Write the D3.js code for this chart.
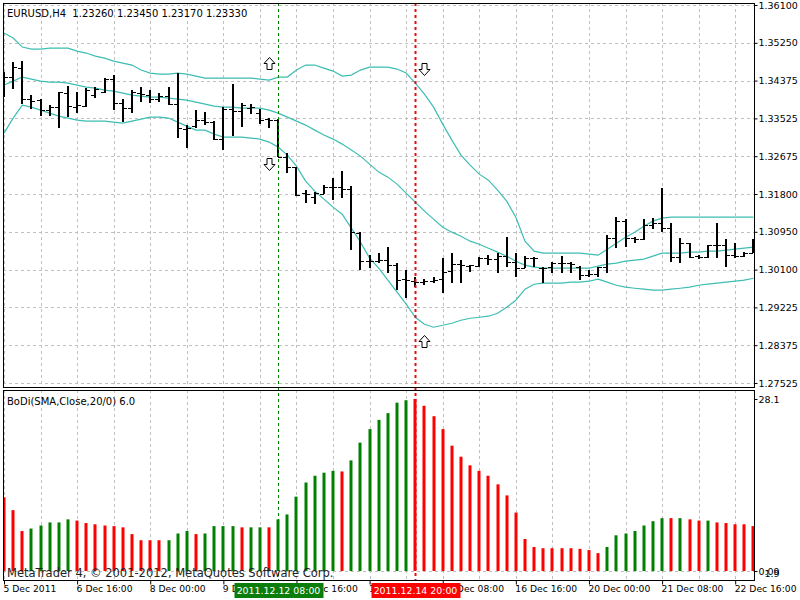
<!DOCTYPE html>
<html>
<head>
<meta charset="utf-8">
<script src="https://d3js.org/d3.v7.min.js"></script>
<style>
  body { margin: 0; background: #fff; }
  text { font-family: "DejaVu Sans", sans-serif; font-size: 10px; }
  .axis .domain { display: none; }
</style>
</head>
<body>
<svg width="800" height="600"></svg>
<script>

// ---- data (EURUSD H4, 83 bars) ----
var open = [1.34397,1.34465,1.34669,1.33966,1.33943,1.33716,1.33784,1.34102,1.33784,1.33807,
  1.34057,1.34125,1.34420,1.33875,1.33762,1.34102,1.34057,1.33966,1.34034,1.33852,
  1.33285,1.33353,1.33489,1.33444,1.33058,1.33739,1.33693,1.33762,1.33648,1.33512,
  1.33489,1.32649,1.32422,1.31832,1.31741,1.31809,1.31968,1.31968,1.31923,1.30924,
  1.30288,1.30288,1.30311,1.30198,1.29880,1.29834,1.29812,1.29834,1.29880,1.30061,
  1.30220,1.30175,1.30175,1.30357,1.30334,1.30402,1.30266,1.30129,1.30357,1.30129,
  1.30152,1.30243,1.30243,1.30152,1.29971,1.29993,1.30152,1.30810,1.31196,1.30810,
  1.30788,1.31106,1.31151,1.31037,1.30379,1.30697,1.30402,1.30379,1.30652,1.30652,
  1.30425,1.30402,1.30470];

var high = [1.34579,1.34806,1.34828,1.34057,1.33966,1.33830,1.34125,1.34261,1.34125,1.34215,
  1.34238,1.34442,1.34511,1.33966,1.34170,1.34238,1.34170,1.34102,1.34238,1.34556,
  1.33376,1.33716,1.33671,1.33466,1.33784,1.34306,1.33875,1.33852,1.33739,1.33535,
  1.33512,1.32740,1.32422,1.31900,1.31855,1.32014,1.32173,1.32331,1.31991,1.30947,
  1.30425,1.30470,1.30606,1.30243,1.30084,1.29925,1.29880,1.29925,1.30357,1.30470,
  1.30311,1.30198,1.30379,1.30425,1.30470,1.30833,1.30470,1.30402,1.30379,1.30152,
  1.30266,1.30402,1.30266,1.30175,1.30084,1.30152,1.30878,1.31287,1.31242,1.30833,
  1.31242,1.31265,1.31945,1.31151,1.30810,1.30697,1.30425,1.30652,1.31151,1.30788,
  1.30697,1.30493,1.30788];

var low = [1.34011,1.34193,1.33852,1.33739,1.33580,1.33580,1.33307,1.33557,1.33648,1.33784,
  1.33989,1.34102,1.33716,1.33444,1.33648,1.33898,1.33875,1.33898,1.33830,1.33080,
  1.32853,1.33307,1.33376,1.33035,1.32808,1.33126,1.33330,1.33625,1.33398,1.33307,
  1.32649,1.32286,1.31764,1.31605,1.31582,1.31809,1.31673,1.31718,1.30538,1.30084,
  1.30129,1.30243,1.30016,1.29630,1.29448,1.29698,1.29743,1.29789,1.29562,1.29789,
  1.29789,1.30039,1.30152,1.30198,1.30016,1.30152,1.29925,1.30129,1.30152,1.29789,
  1.30016,1.30016,1.30016,1.29857,1.29925,1.29925,1.30016,1.30583,1.30606,1.30697,
  1.30765,1.31015,1.30947,1.30266,1.30243,1.30357,1.30334,1.30357,1.30357,1.30152,
  1.30357,1.30379,1.30470];

var close = [1.34465,1.34692,1.33966,1.33920,1.33716,1.33784,1.34125,1.33807,1.33830,1.34170,
  1.34193,1.34420,1.33875,1.33762,1.34125,1.34079,1.33966,1.34034,1.33852,1.33307,
  1.33307,1.33489,1.33444,1.33058,1.33739,1.33693,1.33830,1.33784,1.33489,1.33489,
  1.32649,1.32422,1.31786,1.31809,1.31832,1.31968,1.31968,1.31923,1.30947,1.30288,
  1.30288,1.30311,1.30198,1.29857,1.29857,1.29812,1.29834,1.29857,1.30039,1.30220,
  1.30198,1.30198,1.30357,1.30334,1.30402,1.30266,1.30129,1.30357,1.30357,1.30129,
  1.30243,1.30243,1.30220,1.29971,1.29993,1.30152,1.30810,1.31196,1.30810,1.30788,
  1.31106,1.31151,1.31037,1.30379,1.30697,1.30379,1.30379,1.30652,1.30652,1.30425,
  1.30402,1.30470,1.30606];

// Bollinger bands (20, SMA)
var bbUpper = [1.35464,1.35350,1.35146,1.35101,1.35101,1.35123,1.35123,1.35123,1.35055,1.35010,
  1.34942,1.34896,1.34828,1.34783,1.34738,1.34624,1.34556,1.34533,1.34533,1.34556,
  1.34533,1.34488,1.34442,1.34442,1.34442,1.34442,1.34442,1.34442,1.34420,1.34397,
  1.34465,1.34465,1.34624,1.34738,1.34738,1.34669,1.34601,1.34488,1.34511,1.34624,
  1.34692,1.34692,1.34692,1.34647,1.34556,1.34329,1.34079,1.33784,1.33398,1.33035,
  1.32695,1.32468,1.32263,1.32127,1.31900,1.31650,1.31287,1.30742,1.30515,1.30470,
  1.30470,1.30470,1.30470,1.30470,1.30447,1.30425,1.30561,1.30697,1.30833,1.30947,
  1.31083,1.31196,1.31265,1.31287,1.31287,1.31287,1.31287,1.31287,1.31287,1.31287,
  1.31287,1.31287,1.31287];

var bbMiddle = [1.34284,1.34374,1.34465,1.34420,1.34374,1.34352,1.34352,1.34329,1.34284,1.34238,
  1.34215,1.34170,1.34147,1.34102,1.34057,1.34034,1.34011,1.34011,1.33989,1.33966,
  1.33943,1.33898,1.33852,1.33807,1.33784,1.33784,1.33762,1.33762,1.33762,1.33716,
  1.33648,1.33557,1.33466,1.33376,1.33262,1.33149,1.33058,1.32944,1.32808,1.32672,
  1.32490,1.32309,1.32195,1.32036,1.31832,1.31628,1.31423,1.31242,1.31060,1.30947,
  1.30856,1.30742,1.30674,1.30583,1.30493,1.30402,1.30288,1.30198,1.30152,1.30129,
  1.30129,1.30129,1.30129,1.30129,1.30129,1.30175,1.30220,1.30243,1.30288,1.30311,
  1.30334,1.30402,1.30470,1.30470,1.30470,1.30493,1.30493,1.30515,1.30515,1.30538,
  1.30561,1.30583,1.30606];

var bbLower = [1.33194,1.33535,1.33830,1.33784,1.33716,1.33648,1.33580,1.33535,1.33489,1.33466,
  1.33466,1.33466,1.33444,1.33421,1.33466,1.33512,1.33557,1.33557,1.33535,1.33444,
  1.33353,1.33262,1.33262,1.33171,1.33103,1.33103,1.33103,1.33080,1.33058,1.32990,
  1.32876,1.32695,1.32445,1.32104,1.31877,1.31696,1.31514,1.31355,1.31037,1.30720,
  1.30357,1.30129,1.29857,1.29585,1.29312,1.29017,1.28858,1.28790,1.28835,1.28881,
  1.28949,1.28994,1.29017,1.29040,1.29108,1.29244,1.29403,1.29653,1.29766,1.29789,
  1.29789,1.29789,1.29812,1.29812,1.29834,1.29880,1.29812,1.29743,1.29698,1.29675,
  1.29653,1.29630,1.29630,1.29653,1.29675,1.29698,1.29743,1.29766,1.29789,1.29812,
  1.29834,1.29857,1.29902];

// BoDi histogram (band width) and its colour state: 1 rising, -1 falling
var bodi = [12.1,10.0,6.6,7.0,7.5,8.0,8.0,8.5,8.3,7.9,
  7.7,7.5,7.4,7.2,6.1,5.1,5.1,5.1,5.1,6.2,
  6.6,6.1,6.2,7.4,7.4,7.4,7.2,7.2,7.2,7.2,
  8.5,9.3,12.2,14.5,15.6,16.1,16.4,16.3,18.1,21.0,
  23.2,24.7,25.8,27.5,27.9,28.1,27.0,25.3,23.2,20.5,
  18.7,17.3,16.4,15.6,14.2,12.4,9.6,5.3,4.0,3.8,
  3.8,3.8,3.8,3.7,3.5,3.0,4.0,5.9,6.2,6.6,
  7.5,8.2,8.7,8.7,8.7,8.5,8.3,8.3,8.0,7.9,
  7.7,7.7,7.4];

var bodiDir = [-1,-1,-1,1,1,1,1,1,-1,-1,
  -1,-1,-1,-1,-1,-1,-1,-1,1,1,
  1,-1,1,1,1,1,-1,1,1,-1,
  1,1,1,1,1,1,1,-1,1,1,
  1,1,1,1,1,-1,-1,-1,-1,-1,
  -1,-1,-1,-1,-1,-1,-1,-1,-1,-1,
  -1,-1,-1,-1,-1,-1,1,1,1,1,
  1,1,1,-1,1,-1,-1,1,-1,-1,
  -1,-1,-1];

var priceLabels = ["1.36100","1.35250","1.34375","1.33525","1.32675","1.31800",
                   "1.30950","1.30100","1.29225","1.28375","1.27525"];

var timeLabels = ["5 Dec 2011","6 Dec 16:00","8 Dec 00:00","9 Dec 08:00","12 Dec 16:00",
                  "14 Dec 00:00","15 Dec 08:00","16 Dec 16:00","20 Dec 00:00",
                  "21 Dec 08:00","22 Dec 16:00"];

// vertical marker lines (bar index) and signal arrows
var markerBars = [30, 45];
var markerLabels = ["2011.12.12 08:00", "2011.12.14 20:00"];
var arrowBars = [29, 29, 46, 46];
var arrowPrices = [1.34919, 1.32626, 1.34783, 1.28609];
var arrowDirs = ["up", "down", "down", "up"];

// ---- layout ----
var svg = d3.select("svg");
var L = 3, R = 754, mainTop = 3, mainBot = 387, subTop = 390, subBot = 580;

var x = d3.scaleLinear().domain([0, 80]).range([4, 735.2]);
var y = d3.scaleLinear().domain([1.27525, 1.36100]).range([383, 5]);
var yb = d3.scaleLinear().domain([0.09, 28.1]).range([571, 399]);

var px = function(i) { return Math.round(x(i)) + 0.5; };

var defs = svg.append("defs");
defs.append("clipPath").attr("id", "clipMain").append("rect")
    .attr("x", L).attr("y", mainTop).attr("width", R - L).attr("height", mainBot - mainTop);
defs.append("clipPath").attr("id", "clipSub").append("rect")
    .attr("x", L).attr("y", subTop).attr("width", R - L).attr("height", subBot - subTop);

// grid
var gridX = d3.range(0, 83, 4);
var priceTicks = d3.range(11).map(function(k) { return 1.36100 - k * 0.008575; });

var grid = svg.append("g")
    .attr("stroke", "#c0c0c0")
    .attr("stroke-dasharray", "3,3")
    .attr("shape-rendering", "crispEdges");

grid.selectAll(".gv").data(gridX).enter().append("line")
    .attr("x1", px).attr("x2", px)
    .attr("y1", mainTop).attr("y2", mainBot);
grid.selectAll(".gvs").data(gridX).enter().append("line")
    .attr("x1", px).attr("x2", px)
    .attr("y1", subTop).attr("y2", subBot);
grid.selectAll(".gh").data(priceTicks).enter().append("line")
    .attr("x1", L).attr("x2", R)
    .attr("y1", function(d) { return Math.round(y(d)) + 0.5; })
    .attr("y2", function(d) { return Math.round(y(d)) + 0.5; });
grid.append("line")
    .attr("x1", L).attr("x2", R)
    .attr("y1", Math.round(yb(0.09)) + 0.5).attr("y2", Math.round(yb(0.09)) + 0.5);

// bollinger bands
var main = svg.append("g").attr("clip-path", "url(#clipMain)");

var band = d3.line()
    .x(function(d, i) { return x(i); })
    .y(function(d) { return y(d); });

[bbUpper, bbMiddle, bbLower].forEach(function(s) {
    main.append("path")
        .datum(s)
        .attr("fill", "none")
        .attr("stroke", "#3dbdb3")
        .attr("stroke-width", 1.2)
        .attr("d", band);
});

// OHLC bars
var bars = main.append("g")
    .attr("stroke", "#000")
    .attr("shape-rendering", "crispEdges");

var idx = d3.range(open.length);
bars.selectAll(".hl").data(idx).enter().append("line")
    .attr("stroke-width", 2)
    .attr("x1", function(i) { return Math.round(x(i)); })
    .attr("x2", function(i) { return Math.round(x(i)); })
    .attr("y1", function(i) { return y(high[i]); })
    .attr("y2", function(i) { return y(low[i]); });
bars.selectAll(".op").data(idx).enter().append("line")
    .attr("x1", function(i) { return Math.round(x(i)) - 4; })
    .attr("x2", function(i) { return Math.round(x(i)); })
    .attr("y1", function(i) { return Math.round(y(open[i])) + 0.5; })
    .attr("y2", function(i) { return Math.round(y(open[i])) + 0.5; });
bars.selectAll(".cl").data(idx).enter().append("line")
    .attr("x1", function(i) { return Math.round(x(i)); })
    .attr("x2", function(i) { return Math.round(x(i)) + 4; })
    .attr("y1", function(i) { return Math.round(y(close[i])) + 0.5; })
    .attr("y2", function(i) { return Math.round(y(close[i])) + 0.5; });

// histogram
var sub = svg.append("g").attr("clip-path", "url(#clipSub)");
sub.selectAll("rect").data(idx).enter().append("rect")
    .attr("x", function(i) { return Math.round(x(i)) - 1.5; })
    .attr("y", function(i) { return yb(bodi[i]); })
    .attr("width", 3)
    .attr("height", function(i) { return yb(0.09) - yb(bodi[i]); })
    .attr("fill", function(i) { return bodiDir[i] > 0 ? "#008000" : "#ff0000"; });

// marker lines through both windows
markerBars.forEach(function(b, k) {
    svg.append("line")
        .attr("x1", px(b)).attr("x2", px(b))
        .attr("y1", mainTop).attr("y2", subBot)
        .attr("stroke", k === 0 ? "#008000" : "#e01010")
        .attr("stroke-width", k === 0 ? 1 : 2)
        .attr("stroke-dasharray", "3,3");
});

// arrows
var arrowPath = function(cx, top, dir) {
    var p = dir === "up"
        ? [[0,0],[5.5,6],[2.5,6],[2.5,12],[-2.5,12],[-2.5,6],[-5.5,6]]
        : [[0,12],[5.5,6],[2.5,6],[2.5,0],[-2.5,0],[-2.5,6],[-5.5,6]];
    return "M" + p.map(function(q) { return (cx + q[0]) + "," + (top + q[1]); }).join("L") + "Z";
};
svg.selectAll(".arrow").data(arrowBars).enter().append("path")
    .attr("d", function(b, k) {
        return arrowPath(Math.round(x(b)) + 0.5, Math.round(y(arrowPrices[k])) + 0.5, arrowDirs[k]);
    })
    .attr("fill", "#fff")
    .attr("stroke", "#000")
    .attr("stroke-width", 1);

// frames
svg.append("rect").attr("x", L + 0.5).attr("y", mainTop + 0.5)
    .attr("width", R - L).attr("height", mainBot - mainTop)
    .attr("fill", "none").attr("stroke", "#000");
svg.append("rect").attr("x", L + 0.5).attr("y", subTop + 0.5)
    .attr("width", R - L).attr("height", subBot - subTop)
    .attr("fill", "none").attr("stroke", "#000");

// price axis
var yAxis = d3.axisRight(y)
    .tickValues(priceTicks)
    .tickSize(3)
    .tickPadding(1)
    .tickFormat(function(d, i) { return priceLabels[i]; });
svg.append("g").attr("class", "axis")
    .attr("transform", "translate(" + (R + 0.5) + ",0)")
    .call(yAxis)
    .selectAll("text").style("font-size", "9.5px").attr("fill", "#000");

// histogram axis
var ybAxis = d3.axisRight(yb)
    .tickValues([28.1, 0.09])
    .tickSize(3)
    .tickPadding(1)
    .tickFormat(function(d) { return d === 28.1 ? "28.1" : "0.09"; });
var gb = svg.append("g").attr("class", "axis")
    .attr("transform", "translate(" + (R + 0.5) + ",0)")
    .call(ybAxis);
gb.selectAll("text").style("font-size", "9.5px").attr("fill", "#000");
gb.append("text").attr("x", 10).attr("y", yb(0.09) + 6)
    .attr("fill", "#000").style("font-size", "9.5px").text("1.9");

// time axis
var xAxis = d3.axisBottom(x)
    .tickValues(d3.range(0, 81, 8))
    .tickSize(4)
    .tickFormat(function(d, i) { return timeLabels[i]; });
svg.append("g").attr("class", "axis")
    .attr("transform", "translate(0," + (subBot + 0.5) + ")")
    .call(xAxis)
    .selectAll("text")
    .attr("text-anchor", "start")
    .attr("x", -1)
    .attr("y", 5)
    .style("font-size", "9.2px")
    .attr("fill", "#000");

// marker boxes on the time axis
markerBars.forEach(function(b, k) {
    var g = svg.append("g").attr("transform", "translate(" + px(b) + "," + (subBot + 3) + ")");
    g.append("rect").attr("x", -44).attr("y", 0).attr("width", 89).attr("height", 15)
        .attr("fill", k === 0 ? "#0a7d0a" : "#ff0000");
    g.append("text").attr("x", 0).attr("y", 11)
        .attr("text-anchor", "middle")
        .attr("fill", "#fff")
        .style("font-size", "9.4px")
        .text(markerLabels[k]);
});

// titles
svg.append("text").attr("x", 7).attr("y", 17)
    .style("white-space", "pre")
    .text("EURUSD,H4  1.23260 1.23450 1.23170 1.23330");
svg.append("text").attr("x", 7).attr("y", 405)
    .text("BoDi(SMA,Close,20/0) 6.0");
svg.append("text").attr("x", 7).attr("y", 577)
    .style("font-size", "11.5px")
    .attr("fill", "#222")
    .text("MetaTrader 4, \u00a9 2001-2012, MetaQuotes Software Corp.");

</script>
</body>
</html>
